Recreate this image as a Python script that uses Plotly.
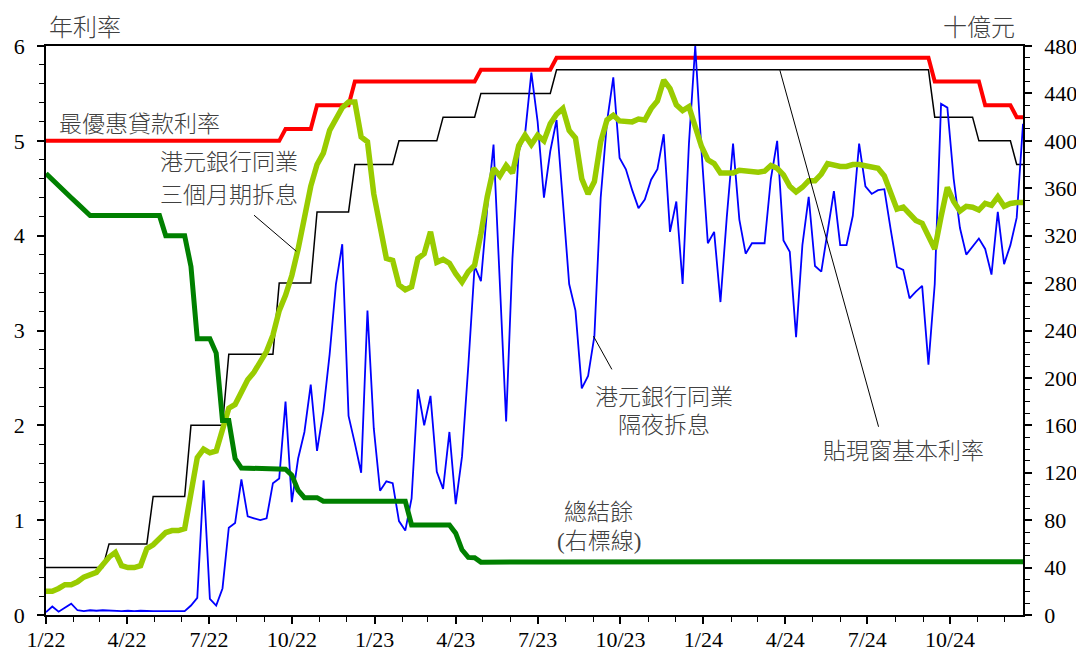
import pandas as pd
import plotly.graph_objects as go

# weekly observations, Jan 2022 - Dec 2024
weeks = pd.date_range("2022-01-01", periods=156, freq="7D")

# HKD overnight HIBOR (% p.a.)
on_hibor = [
    0.03, 0.09, 0.035, 0.08, 0.12, 0.05, 0.04, 0.05, 0.045, 0.05,
    0.045, 0.045, 0.04, 0.045, 0.04, 0.045, 0.04, 0.04, 0.04, 0.04,
    0.04, 0.04, 0.04, 0.1, 0.18, 1.42, 0.17, 0.10, 0.28, 0.92,
    0.97, 1.43, 1.04, 1.02, 1.00, 1.02, 1.39, 1.44, 2.25, 1.19,
    1.65, 1.93, 2.43, 1.73, 2.15, 2.75, 3.49, 3.91, 2.10, 1.81,
    1.50, 3.21, 1.97, 1.31, 1.41, 1.39, 0.99, 0.89, 1.23, 2.38,
    2.00, 2.31, 1.51, 1.33, 1.93, 1.17, 1.67, 2.63, 3.68, 3.52,
    4.29, 4.96, 3.45, 2.04, 3.76, 4.89, 5.07, 5.72, 5.20, 4.40,
    4.89, 5.22, 4.36, 3.49, 3.21, 2.39, 2.52, 2.94, 4.40, 5.20,
    5.67, 4.82, 4.70, 4.48, 4.29, 4.38, 4.59, 4.70, 5.07, 4.04,
    4.36, 3.49, 4.97, 6.00, 4.89, 3.92, 4.04, 3.30, 4.19, 4.97,
    4.17, 3.81, 3.92, 3.92, 3.92, 4.60, 5.00, 3.95, 3.83, 2.93,
    3.90, 4.41, 3.68, 3.62, 4.06, 4.47, 3.90, 3.90, 4.21, 4.97,
    4.52, 4.44, 4.48, 4.49, 4.07, 3.67, 3.64, 3.34, 3.41, 3.47,
    2.64, 3.49, 5.39, 5.35, 4.60, 4.08, 3.80, 3.88, 3.97, 3.86,
    3.59, 4.25, 3.70, 3.90, 4.19, 5.18,
]

# HKD 3-month HIBOR (% p.a.)
m3_hibor = [
    0.25, 0.25, 0.28, 0.32, 0.32, 0.35, 0.40, 0.43, 0.45, 0.53,
    0.61, 0.66, 0.52, 0.50, 0.50, 0.52, 0.70, 0.74, 0.81, 0.87,
    0.89, 0.89, 0.91, 1.26, 1.66, 1.75, 1.71, 1.73, 1.95, 2.18,
    2.22, 2.34, 2.48, 2.56, 2.67, 2.78, 2.95, 3.21, 3.37, 3.58,
    3.86, 4.23, 4.52, 4.75, 4.87, 5.11, 5.24, 5.35, 5.41, 5.41,
    5.04, 4.99, 4.44, 4.09, 3.76, 3.74, 3.48, 3.43, 3.46, 3.76,
    3.81, 4.04, 3.72, 3.75, 3.71, 3.60, 3.51, 3.62, 3.69, 4.02,
    4.41, 4.71, 4.63, 4.74, 4.66, 4.95, 5.06, 4.96, 5.06, 5.00,
    5.18, 5.28, 5.34, 5.11, 5.03, 4.60, 4.44, 4.57, 4.99, 5.22,
    5.27, 5.21, 5.21, 5.20, 5.23, 5.22, 5.34, 5.42, 5.64, 5.55,
    5.38, 5.32, 5.36, 5.16, 4.94, 4.80, 4.76, 4.66, 4.66, 4.66,
    4.69, 4.68, 4.67, 4.67, 4.68, 4.74, 4.71, 4.64, 4.52, 4.46,
    4.51, 4.58, 4.58, 4.65, 4.76, 4.74, 4.73, 4.73, 4.75, 4.75,
    4.74, 4.72, 4.71, 4.63, 4.47, 4.28, 4.30, 4.23, 4.16, 4.13,
    4.00, 3.86, 4.20, 4.51, 4.36, 4.26, 4.31, 4.30, 4.27, 4.34,
    4.32, 4.41, 4.31, 4.34, 4.35, 4.35,
]

# aggregate balance (HK$ bn, right axis)
agg_balance = [
    372.5, 367, 362, 357, 352, 347, 342, 337, 337, 337,
    337, 337, 337, 337, 337, 337, 337, 337, 337, 320,
    320, 320, 320, 294, 233, 233, 233, 221, 164, 164,
    132, 124, 124, 124, 124, 124, 124, 124, 123, 118,
    105, 99, 99, 99, 96, 96, 96, 96, 96, 96,
    96, 96, 96, 96, 96, 96, 96, 96, 76, 76,
    76, 76, 76, 76, 76, 69, 55, 48.6, 48.3, 44.6,
    44.5, 44.6, 44.6, 44.7, 44.6, 44.6, 44.7, 44.8, 44.7, 44.8,
    44.8, 44.8, 44.8, 44.9, 44.8, 44.8, 44.8, 44.8, 44.8, 44.9,
    44.9, 44.8, 44.8, 44.8, 44.9, 44.9, 44.8, 44.8, 44.8, 44.9,
    44.8, 44.8, 44.9, 44.8, 44.8, 44.7, 44.8, 44.8, 44.8, 44.8,
    44.9, 44.8, 44.8, 44.8, 44.8, 44.9, 44.8, 44.8, 44.8, 44.9,
    44.9, 44.8, 44.8, 44.8, 44.8, 44.7, 44.6, 44.7, 44.8, 44.8,
    44.8, 44.8, 44.8, 44.8, 44.7, 44.8, 44.8, 44.8, 44.8, 44.9,
    44.8, 44.8, 44.8, 44.8, 44.8, 44.8, 44.8, 44.9, 44.8, 44.8,
    44.8, 44.8, 44.8, 44.8, 44.9, 44.9,
]

# step series: change points
prime_dates = ["2022-01-01", "2022-09-17", "2022-09-24", "2022-10-22", "2022-10-29",
               "2022-12-03", "2022-12-10", "2023-04-22", "2023-04-29", "2023-07-15",
               "2023-07-22", "2024-09-07", "2024-09-14", "2024-11-02", "2024-11-09",
               "2024-12-07", "2024-12-14", "2024-12-21"]
prime_rate = [5.0, 5.0, 5.125, 5.125, 5.375, 5.375, 5.625, 5.625, 5.75, 5.75,
              5.875, 5.875, 5.625, 5.625, 5.375, 5.375, 5.25, 5.25]

base_dates = ["2022-01-01", "2022-03-05", "2022-03-12", "2022-04-23", "2022-04-30",
              "2022-06-04", "2022-06-11", "2022-07-16", "2022-07-23", "2022-09-10",
              "2022-09-17", "2022-10-22", "2022-10-29", "2022-12-03", "2022-12-10",
              "2023-01-21", "2023-01-28", "2023-03-11", "2023-03-18", "2023-04-22",
              "2023-04-29", "2023-07-15", "2023-07-22", "2024-09-07", "2024-09-14",
              "2024-10-26", "2024-11-02", "2024-12-07", "2024-12-14", "2024-12-21"]
base_rate = [0.5, 0.5, 0.75, 0.75, 1.25, 1.25, 2.0, 2.0, 2.75, 2.75,
             3.5, 3.5, 4.25, 4.25, 4.75, 4.75, 5.0, 5.0, 5.25, 5.25,
             5.5, 5.5, 5.75, 5.75, 5.25, 5.25, 5.0, 5.0, 4.75, 4.75]

fig = go.Figure()
fig.add_trace(go.Scatter(x=base_dates, y=base_rate, mode="lines",
                         line=dict(color="black", width=1.5)))
fig.add_trace(go.Scatter(x=prime_dates, y=prime_rate, mode="lines",
                         line=dict(color="#FF0000", width=4)))
fig.add_trace(go.Scatter(x=weeks, y=on_hibor, mode="lines",
                         line=dict(color="#0000FF", width=1.8)))
fig.add_trace(go.Scatter(x=weeks, y=m3_hibor, mode="lines",
                         line=dict(color="#99CC00", width=5.5)))
fig.add_trace(go.Scatter(x=weeks, y=agg_balance, mode="lines", yaxis="y2",
                         line=dict(color="#008000", width=5)))

cjk = "Liberation Serif, Noto Sans CJK TC"
txt_color = "#404040"

def label(text, x, y, xanchor="center", size=23):
    fig.add_annotation(text=text, x=x, y=y, xref="paper", yref="paper",
                       xanchor=xanchor, yanchor="middle", showarrow=False,
                       font=dict(family=cjk, size=size, color=txt_color, weight=300))

label("年利率", 0.0399, 1.0316, size=24)
label("十億元", 0.955, 1.0316, size=24)
label("最優惠貸款利率", 0.0113, 0.8629, xanchor="left")
label("港元銀行同業", 0.1868, 0.7944)
label("三個月期拆息", 0.1868, 0.7381)
label("港元銀行同業", 0.6326, 0.3831)
label("隔夜拆息", 0.6326, 0.3322)
label("貼現窗基本利率", 0.8775, 0.2865)
label("總結餘", 0.5660, 0.1810)
label("(右標線)", 0.5660, 0.1283)

# leader lines
leaders = [
    ("2022-08-20", 4.216, "2022-10-05 21:00", 3.836),
    ("2023-09-01", 2.94, "2023-09-21 10:00", 2.59),
    ("2024-03-26", 5.744, "2024-07-13 14:00", 1.985),
]
for x0, y0, x1, y1 in leaders:
    fig.add_shape(type="line", xref="x", yref="y", x0=x0, y0=y0, x1=x1, y1=y1,
                  line=dict(color="black", width=1))

tick_font = dict(family="Liberation Serif", size=22, color="black")

# page body adds an 8px margin, so the figure is sized to fit the window
fig.update_layout(
    width=1076, height=640,
    margin=dict(l=38, r=61, t=38, b=33),
    paper_bgcolor="white", plot_bgcolor="white",
    showlegend=False,
    xaxis=dict(
        type="date", range=["2022-01-01", "2024-12-21"], automargin=False,
        tick0="2022-01-01", dtick="M3", tickformat="%-m/%y",
        ticks="outside", ticklen=7, tickwidth=1.5, tickcolor="black",
        ticklabelstandoff=-3,
        showline=True, linecolor="black", linewidth=1.5, mirror=True,
        showgrid=False, zeroline=False, tickfont=tick_font,
        minor=dict(dtick="M1", tick0="2022-01-01", ticks="outside", ticklen=5,
                   tickcolor="black", tickwidth=1.2, showgrid=False),
    ),
    yaxis=dict(
        range=[0, 6], dtick=1, ticks="outside", ticklen=7, tickwidth=1.5,
        automargin=False, ticklabelstandoff=8,
        tickcolor="black", showline=True, linecolor="black", linewidth=1.5,
        showgrid=False, zeroline=False, tickfont=tick_font,
        minor=dict(dtick=0.2, ticks="outside", ticklen=5, tickcolor="black",
                   tickwidth=1.2, showgrid=False),
    ),
    yaxis2=dict(
        overlaying="y", side="right", range=[0, 480], dtick=40,
        automargin=False, ticklabelstandoff=8,
        ticks="outside", ticklen=7, tickwidth=1.5, tickcolor="black",
        showline=True, linecolor="black", linewidth=1.5,
        showgrid=False, zeroline=False, tickfont=tick_font,
        minor=dict(dtick=10, ticks="outside", ticklen=5, tickcolor="black",
                   tickwidth=1.2, showgrid=False),
    ),
)

fig.write_html("out.html")
